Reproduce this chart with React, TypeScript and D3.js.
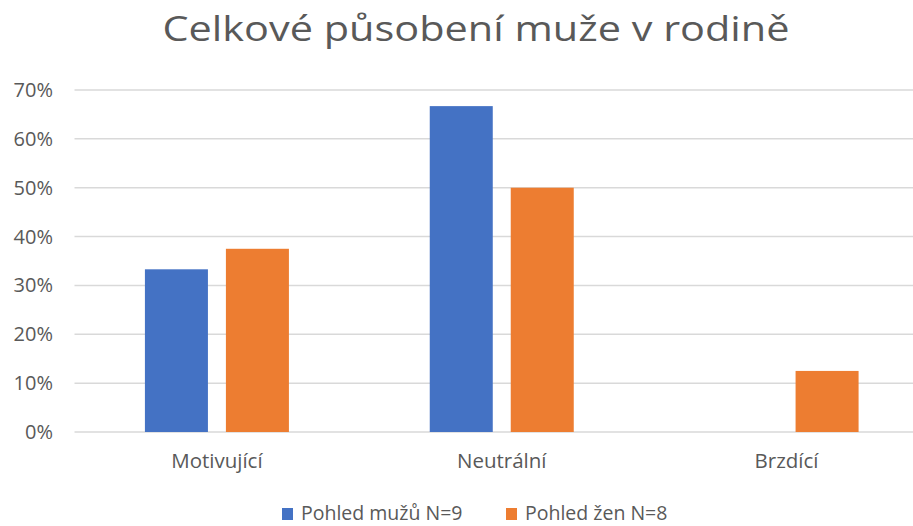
import { useEffect, useRef } from 'react';
import * as d3 from 'd3';

const categories = ['Motivující', 'Neutrální', 'Brzdící'];
const seriesNames = ['Pohled mužů N=9', 'Pohled žen N=8'];
const menValues = [0.333, 0.667, 0];
const womenValues = [0.375, 0.5, 0.125];
const yTicks = [0, 0.1, 0.2, 0.3, 0.4, 0.5, 0.6, 0.7];
const colors = ['#4472C4', '#ED7D31'];

const W = 913;
const H = 526;
const FONT = '"Open Sans", "Noto Sans", sans-serif';

const App = () => {
  const svgRef = useRef<SVGSVGElement>(null);

  useEffect(() => {
    if (!svgRef.current) return;
    const svg = d3.select(svgRef.current);
    svg.selectAll('*').remove();

    const left = 74.5;
    const right = 929;
    const top = 90;
    const bottom = 432;

    const x0 = d3.scaleBand().domain(categories).range([left, right]).padding(0);
    const x1 = d3
      .scaleBand()
      .domain(seriesNames)
      .range([x0.bandwidth() / 2 - 72, x0.bandwidth() / 2 + 72])
      .paddingInner(0.222)
      .paddingOuter(0);
    const y = d3.scaleLinear().domain([0, 0.7]).range([bottom, top]);

    // title, stretched a bit to match the wide rendering
    svg
      .append('text')
      .attr('x', 476)
      .attr('y', 41)
      .attr('text-anchor', 'middle')
      .attr('font-family', FONT)
      .attr('font-size', 35)
      .attr('fill', '#595959')
      .attr('textLength', 627)
      .attr('lengthAdjust', 'spacingAndGlyphs')
      .text('Celkové působení muže v rodině');

    // gridlines
    svg
      .append('g')
      .selectAll('line')
      .data(yTicks)
      .enter()
      .append('line')
      .attr('x1', left)
      .attr('x2', right)
      .attr('y1', (d) => y(d))
      .attr('y2', (d) => y(d))
      .attr('stroke', '#d9d9d9')
      .attr('stroke-width', 1.5);

    // y axis labels
    svg
      .append('g')
      .selectAll('text')
      .data(yTicks)
      .enter()
      .append('text')
      .attr('x', 53)
      .attr('y', (d) => y(d) + 7)
      .attr('text-anchor', 'end')
      .attr('font-family', FONT)
      .attr('font-size', 20)
      .attr('fill', '#595959')
      .text((d) => d3.format('.0%')(d));

    // bars
    const seriesValues = [menValues, womenValues];
    seriesValues.forEach((vals, si) => {
      svg
        .append('g')
        .selectAll('rect')
        .data(vals)
        .enter()
        .append('rect')
        .attr('x', (_, i) => (x0(categories[i]) || 0) + (x1(seriesNames[si]) || 0))
        .attr('width', x1.bandwidth())
        .attr('y', (d) => y(d))
        .attr('height', (d) => bottom - y(d))
        .attr('fill', colors[si]);
    });

    // category labels
    svg
      .append('g')
      .selectAll('text')
      .data(categories)
      .enter()
      .append('text')
      .attr('x', (d) => (x0(d) || 0) + x0.bandwidth() / 2)
      .attr('y', 468)
      .attr('text-anchor', 'middle')
      .attr('font-family', FONT)
      .attr('font-size', 20.5)
      .attr('fill', '#595959')
      .text((d) => d);

    // legend
    const legendX = [282, 506];
    const lg = svg.append('g');
    seriesNames.forEach((name, i) => {
      lg.append('rect')
        .attr('x', legendX[i])
        .attr('y', 508)
        .attr('width', 11)
        .attr('height', 12)
        .attr('fill', colors[i]);
      lg.append('text')
        .attr('x', legendX[i] + 19)
        .attr('y', 520)
        .attr('font-family', FONT)
        .attr('font-size', 19.5)
        .attr('fill', '#595959')
        .text(name);
    });
  }, []);

  return (
    <div style={{ position: 'absolute', left: 0, top: 0, width: W, height: H, background: '#fff' }}>
      <svg ref={svgRef} width={W} height={H} style={{ display: 'block' }} />
    </div>
  );
};

export default App;
